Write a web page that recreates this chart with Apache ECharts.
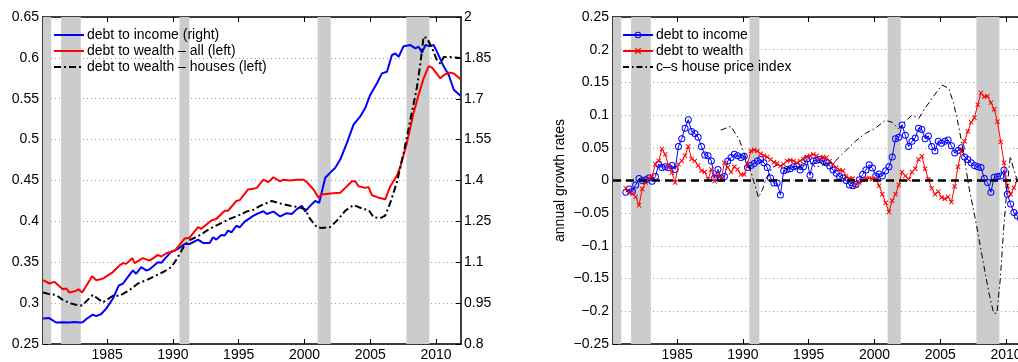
<!DOCTYPE html>
<html><head><meta charset="utf-8">
<script src="https://cdn.jsdelivr.net/npm/echarts@6/dist/echarts.min.js"></script>
<style>html,body{margin:0;padding:0;background:#fff;overflow:hidden;width:1018px;height:362px}#c{width:1031px;height:362px}</style>
</head><body><div id="c"></div>
<script>
// ---------- data ----------
const xTicks = [1985, 1990, 1995, 2000, 2005, 2010];
const rightTicks = [0.8, 0.95, 1.1, 1.25, 1.4, 1.55, 1.7, 1.85, 2];
const recessions = [[1980.0, 1980.75], [1981.5, 1983.0], [1990.5, 1991.25], [2001.0, 2002.0], [2007.75, 2009.5]];

// left panel: [year, value]
const debtToIncome = [
 [1980.13,0.894],[1980.6,0.895],[1981.12,0.879],[1981.63,0.880],[1982.14,0.879],[1982.52,0.881],[1982.9,0.879],[1983.15,0.880],
 [1983.4,0.891],[1983.91,0.908],[1984.17,0.902],[1984.55,0.910],[1984.93,0.930],[1985.44,0.967],[1985.89,1.015],[1986.2,1.021],
 [1986.58,1.046],[1986.96,1.070],[1987.21,1.058],[1987.59,1.082],[1987.97,1.070],[1988.23,1.074],[1988.86,1.100],[1989.12,1.098],
 [1989.5,1.119],[1989.88,1.139],[1990.13,1.143],[1990.39,1.149],[1990.89,1.167],[1991.27,1.167],[1991.91,1.183],[1992.29,1.171],
 [1992.8,1.171],[1993.05,1.192],[1993.3,1.183],[1993.68,1.200],[1993.94,1.198],[1994.19,1.216],[1994.45,1.210],[1994.83,1.234],
 [1995.08,1.228],[1995.46,1.249],[1996.1,1.270],[1996.37,1.277],[1996.88,1.287],[1997.13,1.277],[1997.64,1.286],[1998.15,1.268],
 [1998.66,1.280],[1999.04,1.277],[1999.42,1.295],[1999.8,1.307],[2000.05,1.286],[2000.43,1.307],[2000.81,1.325],[2001.12,1.318],
 [2001.58,1.410],[2001.96,1.429],[2002.34,1.447],[2002.72,1.477],[2003.23,1.538],[2003.73,1.605],[2004.24,1.635],[2004.62,1.666],
 [2005.0,1.714],[2005.51,1.757],[2005.89,1.793],[2006.27,1.799],[2006.65,1.860],[2006.9,1.866],[2007.16,1.854],[2007.54,1.893],
 [2008.05,1.897],[2008.43,1.885],[2008.68,1.891],[2008.94,1.869],[2009.19,1.897],[2009.57,1.893],[2009.82,1.897],[2010.08,1.872],
 [2010.59,1.818],[2010.97,1.787],[2011.35,1.733],[2011.86,1.711]
];
const debtToWealthAll = [
 [1980.13,0.328],[1980.61,0.324],[1980.99,0.326],[1981.63,0.317],[1981.88,0.318],[1982.14,0.313],[1982.64,0.315],[1982.82,0.317],
 [1983.1,0.313],[1983.86,0.333],[1984.17,0.328],[1984.68,0.330],[1985.44,0.338],[1985.94,0.346],[1986.2,0.349],[1986.45,0.348],
 [1986.91,0.355],[1987.09,0.349],[1987.72,0.355],[1988.23,0.352],[1988.86,0.359],[1989.12,0.357],[1989.5,0.361],[1990.13,0.364],
 [1990.89,0.379],[1991.27,0.380],[1991.91,0.393],[1992.16,0.391],[1992.92,0.401],[1993.3,0.403],[1993.94,0.413],[1994.19,0.413],
 [1994.83,0.425],[1995.08,0.426],[1995.72,0.439],[1996.1,0.440],[1996.37,0.441],[1996.88,0.451],[1997.26,0.448],[1997.64,0.454],
 [1998.15,0.449],[1998.4,0.451],[1998.91,0.450],[1999.42,0.451],[1999.93,0.451],[2000.18,0.448],[2000.69,0.439],[2001.07,0.429],
 [2001.32,0.433],[2001.96,0.434],[2002.72,0.435],[2003.1,0.441],[2003.61,0.449],[2003.86,0.449],[2004.11,0.443],[2004.62,0.441],
 [2004.87,0.442],[2005.13,0.432],[2005.64,0.429],[2006.14,0.427],[2006.53,0.443],[2007.03,0.456],[2007.29,0.467],[2007.79,0.496],
 [2008.3,0.533],[2008.68,0.555],[2009.06,0.575],[2009.44,0.590],[2009.7,0.588],[2009.95,0.583],[2010.33,0.575],[2010.59,0.579],
 [2010.97,0.582],[2011.35,0.581],[2011.86,0.574]
];
const debtToWealthHouses = [
 [1980.13,0.313],[1980.61,0.311],[1981.12,0.310],[1981.63,0.304],[1982.14,0.300],[1982.64,0.298],[1983.1,0.297],[1983.53,0.304],
 [1983.91,0.310],[1984.68,0.301],[1985.44,0.309],[1985.94,0.309],[1986.71,0.316],[1987.34,0.324],[1987.97,0.328],[1988.74,0.334],
 [1989.37,0.339],[1989.88,0.344],[1990.13,0.350],[1990.51,0.360],[1990.89,0.371],[1991.27,0.377],[1992.04,0.383],[1992.8,0.391],
 [1993.56,0.397],[1994.32,0.403],[1995.08,0.408],[1995.59,0.412],[1996.1,0.414],[1996.63,0.419],[1997.51,0.425],[1998.15,0.422],
 [1998.91,0.419],[1999.67,0.417],[2000.05,0.415],[2000.43,0.403],[2000.94,0.393],[2001.32,0.392],[2001.96,0.393],[2002.59,0.403],
 [2003.1,0.413],[2003.73,0.420],[2004.49,0.415],[2004.87,0.414],[2005.26,0.405],[2005.76,0.404],[2006.14,0.407],[2006.53,0.423],
 [2007.03,0.448],[2007.54,0.484],[2008.05,0.524],[2008.56,0.565],[2008.81,0.593],[2009.06,0.626],[2009.32,0.624],[2009.7,0.612],
 [2010.08,0.597],[2010.33,0.593],[2010.59,0.601],[2011.09,0.601],[2011.86,0.600]
];

// right panel: quarterly growth rates starting 1981.1
const growthStart = 1981.1;
const debtToIncomeGrowth = [
 -0.018,-0.013,-0.017,-0.007,0.003,0.000,0.001,0.004,-0.001,0.006,
 0.025,0.020,0.021,0.020,0.023,0.017,0.052,0.064,0.080,0.093,
 0.075,0.072,0.066,0.052,0.039,0.038,0.030,0.004,0.017,0.004,
 0.006,0.030,0.035,0.040,0.038,0.035,0.037,0.020,0.023,0.026,
 0.030,0.032,0.027,0.020,0.004,-0.004,-0.004,-0.022,0.015,0.017,
 0.018,0.021,0.022,0.016,0.021,0.033,0.008,0.030,0.031,0.032,
 0.030,0.027,0.022,0.016,0.011,0.006,0.004,0.000,-0.007,-0.008,
 -0.006,0.001,0.009,0.016,0.024,0.019,0.007,0.010,0.007,0.015,
 0.021,0.036,0.064,0.066,0.085,0.069,0.052,0.060,0.065,0.080,
 0.078,0.064,0.068,0.052,0.045,0.060,0.057,0.060,0.062,0.053,
 0.042,0.046,0.050,0.036,0.032,0.027,0.023,0.021,0.020,0.003,
 -0.003,-0.018,0.005,0.006,0.007,0.016,-0.021,-0.036,-0.049,-0.054,
 -0.058
];
const debtToWealthGrowth = [
 -0.012,-0.017,-0.020,-0.025,-0.038,-0.013,-0.003,0.004,0.007,0.025,
 0.030,0.048,0.040,0.022,0.012,-0.003,0.025,0.030,0.038,0.052,
 0.033,0.030,0.023,0.015,0.013,0.002,0.017,-0.001,0.009,0.002,
 0.027,0.020,0.013,0.021,0.017,0.009,0.009,0.025,0.045,0.047,
 0.045,0.041,0.038,0.036,0.032,0.028,0.026,0.022,0.025,0.030,
 0.031,0.030,0.027,0.030,0.033,0.036,0.038,0.040,0.038,0.033,
 0.036,0.035,0.030,0.025,0.020,0.016,0.015,0.007,0.003,0.003,
 -0.007,-0.003,0.001,0.003,0.004,0.002,0.003,-0.008,-0.021,-0.034,
 -0.048,-0.031,-0.021,-0.007,0.013,0.007,0.002,0.013,0.018,0.032,
 0.037,0.018,0.002,-0.012,-0.021,-0.017,-0.026,-0.028,-0.025,-0.033,
 -0.009,0.021,0.045,0.060,0.075,0.089,0.096,0.116,0.134,0.128,
 0.129,0.119,0.109,0.090,0.059,0.027,-0.008,-0.021,-0.011,0.000,
 0.008
];
const housePriceGrowth = [
 [1988.32,0.077],[1989.08,0.083],[1989.71,0.063],[1990.09,0.042],[1990.47,0.022],[1990.85,-0.003],[1991.18,-0.026],
 [1991.49,-0.014],[1991.79,0.004],[1992.25,0.020],[1992.75,0.025],[1993.26,0.018],[1993.76,0.021],[1994.27,0.021],
 [1994.77,0.024],[1995.28,0.026],[1995.51,0.020],[1996.27,0.025],[1997.03,0.030],[1997.79,0.045],[1998.55,0.060],
 [1999.31,0.072],[2000.07,0.080],[2000.83,0.092],[2001.34,0.089],[2001.84,0.079],[2002.22,0.088],[2002.86,0.100],
 [2003.36,0.095],[2003.87,0.111],[2004.38,0.126],[2005.13,0.146],[2005.64,0.141],[2006.02,0.118],[2006.4,0.083],
 [2006.78,0.042],[2007.16,-0.008],[2007.67,-0.059],[2008.18,-0.115],[2008.68,-0.170],[2009.06,-0.203],[2009.31,-0.203],
 [2009.57,-0.150],[2009.82,-0.074],[2010.07,-0.013],[2010.33,0.037],[2010.58,0.017],[2010.83,0.002]
];

// ---------- chart ----------
const X_MIN = 1980.125, X_MAX = 2011.9;
const FONT = 'Liberation Sans, Arial, Helvetica, sans-serif';
const RING = 'path://M0,7A7,7 0 1,1 14,7A7,7 0 1,1 0,7Z M2,7A5,5 0 1,0 12,7A5,5 0 1,0 2,7Z';
const CROSS = 'path://M0,1.4L1.4,0L5,3.6L8.6,0L10,1.4L6.4,5L10,8.6L8.6,10L5,6.4L1.4,10L0,8.6L3.6,5Z';
const quarterly = arr => arr.map((v, i) => [growthStart + i * 0.25, v]);
const bandData = recessions.map(r => [{ xAxis: Math.max(r[0], X_MIN) }, { xAxis: r[1] }]);
const minusFmt = v => { const s = String(+v.toFixed(2)); return s.replace('-', '\u2212'); };

const axisLineStyle = { show: true, onZero: false, lineStyle: { color: '#000', width: 1.5 } };
const tickStyle = { show: true, inside: true, length: 5, lineStyle: { color: '#000', width: 1 } };
const labelStyle = { color: '#000', fontSize: 14, fontFamily: FONT };
const gridDots = { show: true, lineStyle: { color: '#9a9a9a', width: 1, type: [1, 3] } };
const noSym = { opacity: 0 };

function xAx(gridIndex, position) {
  const bottom = position === 'bottom';
  return {
    type: 'value', gridIndex, position, min: X_MIN, max: X_MAX,
    axisLine: axisLineStyle,
    axisTick: Object.assign({}, tickStyle, { customValues: xTicks }),
    axisLabel: Object.assign({}, labelStyle, { show: bottom, margin: 4, customValues: xTicks, formatter: v => String(v) }),
    splitLine: { show: false }
  };
}

const option = {
  animation: false,
  backgroundColor: '#fff',
  textStyle: { fontFamily: FONT },
  grid: [
    { left: 43, top: 17, width: 418, height: 329 },
    { left: 613, top: 17, width: 418, height: 329 }
  ],
  legend: [
    {
      left: 53, top: 28, orient: 'vertical', padding: 0, itemWidth: 30, itemHeight: 8, itemGap: 2,
      textStyle: Object.assign({}, labelStyle, { padding: [0, 0, 0, -2] }),
      data: [
        { name: 'debt to income (right)', itemStyle: noSym },
        { name: 'debt to wealth \u2013 all (left)', itemStyle: noSym },
        { name: 'debt to wealth \u2013 houses (left)', itemStyle: noSym }
      ]
    },
    {
      left: 622, top: 28, orient: 'vertical', padding: 0, itemWidth: 30, itemHeight: 8, itemGap: 2,
      textStyle: Object.assign({}, labelStyle, { padding: [0, 0, 0, -2] }),
      data: [
        { name: 'debt to income' },
        { name: 'debt to wealth' },
        { name: 'c\u2013s house price index', itemStyle: noSym }
      ]
    }
  ],
  xAxis: [xAx(0, 'bottom'), xAx(0, 'top'), xAx(1, 'bottom'), xAx(1, 'top')],
  yAxis: [
    {
      type: 'value', gridIndex: 0, position: 'left', min: 0.25, max: 0.65, interval: 0.05,
      axisLine: axisLineStyle, axisTick: tickStyle,
      axisLabel: Object.assign({}, labelStyle, { margin: 4, formatter: minusFmt }),
      splitLine: gridDots
    },
    {
      type: 'value', gridIndex: 0, position: 'right', min: 0.8, max: 2,
      axisLine: axisLineStyle,
      axisTick: Object.assign({}, tickStyle, { customValues: rightTicks }),
      axisLabel: Object.assign({}, labelStyle, { margin: 3, customValues: rightTicks, formatter: minusFmt }),
      splitLine: { show: false }
    },
    {
      type: 'value', gridIndex: 1, position: 'left', min: -0.25, max: 0.25, interval: 0.05,
      name: 'annual growth rates', nameLocation: 'middle', nameGap: 46,
      nameTextStyle: Object.assign({}, labelStyle),
      axisLine: axisLineStyle, axisTick: tickStyle,
      axisLabel: Object.assign({}, labelStyle, { margin: 4, formatter: minusFmt }),
      splitLine: gridDots
    }
  ],
  series: [
    // recession bands (left)
    { type: 'line', xAxisIndex: 0, yAxisIndex: 0, data: [], silent: true, z: 1,
      markArea: { silent: true, itemStyle: { color: '#cccccc', opacity: 1 }, data: bandData } },
    { name: 'debt to income (right)', type: 'line', xAxisIndex: 0, yAxisIndex: 1, data: debtToIncome,
      symbol: 'none', lineStyle: { color: '#0000ff', width: 2 }, itemStyle: { color: '#0000ff' }, z: 3 },
    { name: 'debt to wealth \u2013 all (left)', type: 'line', xAxisIndex: 0, yAxisIndex: 0, data: debtToWealthAll,
      symbol: 'none', lineStyle: { color: '#ff0000', width: 2 }, itemStyle: { color: '#ff0000' }, z: 4 },
    { name: 'debt to wealth \u2013 houses (left)', type: 'line', xAxisIndex: 0, yAxisIndex: 0, data: debtToWealthHouses,
      symbol: 'none', lineStyle: { color: '#000', width: 2, type: [7, 3, 2, 3] }, itemStyle: { color: '#000' }, z: 5 },

    // recession bands (right) + zero line
    { type: 'line', xAxisIndex: 2, yAxisIndex: 2, data: [], silent: true, z: 1,
      markArea: { silent: true, itemStyle: { color: '#cccccc', opacity: 1 }, data: bandData } },
    { type: 'line', xAxisIndex: 2, yAxisIndex: 2, data: [], silent: true, z: 6,
      markLine: { silent: true, symbol: ['none', 'none'], label: { show: false },
        lineStyle: { color: '#000', width: 2.5, type: [8, 5] }, data: [{ yAxis: 0 }] } },
    { name: 'debt to income', type: 'line', xAxisIndex: 2, yAxisIndex: 2, data: quarterly(debtToIncomeGrowth),
      symbol: RING, symbolSize: 7, lineStyle: { color: '#0000ff', width: 1 },
      itemStyle: { color: '#0000ff' }, z: 3 },
    { name: 'debt to wealth', type: 'line', xAxisIndex: 2, yAxisIndex: 2, data: quarterly(debtToWealthGrowth),
      symbol: CROSS, symbolSize: 5, lineStyle: { color: '#ff0000', width: 1 }, itemStyle: { color: '#ff0000' }, z: 4 },
    { name: 'c\u2013s house price index', type: 'line', xAxisIndex: 2, yAxisIndex: 2, data: housePriceGrowth,
      symbol: 'none', lineStyle: { color: '#000', width: 1, type: [6, 3, 1.5, 3] }, itemStyle: { color: '#000' }, z: 5 }
  ]
};

const chart = echarts.init(document.getElementById('c'), null, { renderer: 'canvas', width: 1031, height: 362 });
chart.setOption(option);
</script>
</body></html>
